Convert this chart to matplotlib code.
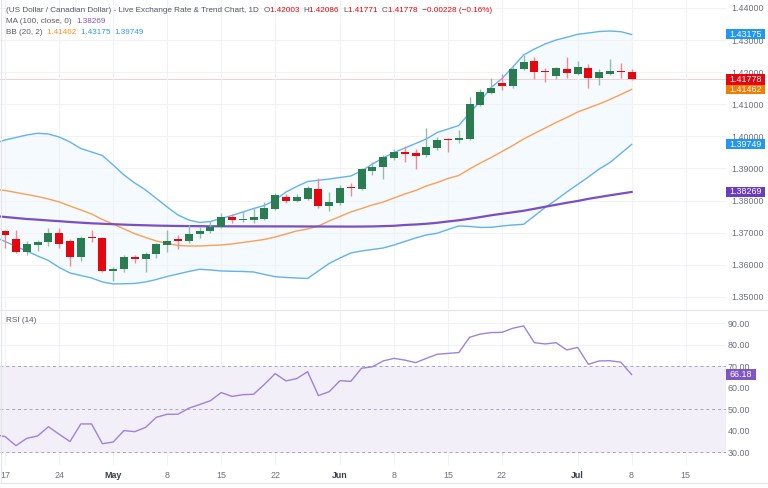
import numpy as np
import pandas as pd
import matplotlib
matplotlib.use("Agg")
import matplotlib.pyplot as plt
from matplotlib import transforms
from matplotlib.patches import Rectangle
from matplotlib.lines import Line2D

plt.rcParams["font.family"] = ["Liberation Sans", "DejaVu Sans"]

# daily USD/CAD candles, Apr 17 -> Jul 8
opens = [1.37044, 1.36804, 1.36408, 1.36626, 1.36720, 1.36991, 1.36741, 1.36252, 1.36857, 1.36826,
         1.35805, 1.35869, 1.36243, 1.36171, 1.36327, 1.36626, 1.36794, 1.36751, 1.36950, 1.37053,
         1.37187, 1.37474, 1.37380, 1.37411, 1.37427, 1.37729, 1.38097, 1.38003, 1.38065, 1.38361,
         1.37841, 1.37910, 1.38424, 1.38361, 1.38931, 1.39037, 1.39318, 1.39505, 1.39473, 1.39420,
         1.39648, 1.39919, 1.39888, 1.39928, 1.40978, 1.41343, 1.41654, 1.41576, 1.42090, 1.42340,
         1.42037, 1.41888, 1.42100, 1.41944, 1.42121, 1.41810, 1.41944, 1.42044, 1.42003]
highs = [1.37084, 1.37084, 1.36751, 1.36773, 1.37137, 1.37137, 1.36804, 1.36907, 1.37084, 1.36875,
         1.35941, 1.36290, 1.36290, 1.36408, 1.36688, 1.37084, 1.36928, 1.37230, 1.37178, 1.37349,
         1.37629, 1.37583, 1.37685, 1.37761, 1.37941, 1.38237, 1.38190, 1.38206, 1.38470, 1.38695,
         1.38277, 1.38486, 1.38533, 1.39006, 1.39212, 1.39420, 1.39607, 1.39701, 1.39592, 1.40252,
         1.39966, 1.39941, 1.40184, 1.41227, 1.41476, 1.41810, 1.41944, 1.42162, 1.42536, 1.42458,
         1.42146, 1.42162, 1.42474, 1.42358, 1.42240, 1.42100, 1.42396, 1.42271, 1.42086]
lows = [1.36514, 1.36358, 1.36305, 1.36430, 1.36595, 1.36514, 1.35972, 1.36118, 1.36720, 1.35785,
        1.35495, 1.35776, 1.36047, 1.35776, 1.36212, 1.36414, 1.36492, 1.36688, 1.36850, 1.37006,
        1.37137, 1.37293, 1.37324, 1.37302, 1.37386, 1.37692, 1.37925, 1.37966, 1.38019, 1.37769,
        1.37685, 1.37863, 1.38134, 1.38330, 1.38800, 1.38673, 1.39265, 1.39202, 1.38984, 1.39358,
        1.39576, 1.39529, 1.39794, 1.39903, 1.40947, 1.41312, 1.41445, 1.41523, 1.42069, 1.41773,
        1.41710, 1.41773, 1.41810, 1.41913, 1.41498, 1.41601, 1.41913, 1.41810, 1.41771]
closes = [1.36919, 1.36408, 1.36639, 1.36701, 1.36991, 1.36648, 1.36252, 1.36844, 1.36826, 1.35807,
          1.35879, 1.36234, 1.36171, 1.36327, 1.36639, 1.36751, 1.36751, 1.36950, 1.37062, 1.37187,
          1.37480, 1.37380, 1.37442, 1.37474, 1.37761, 1.38174, 1.37994, 1.38112, 1.38383, 1.37822,
          1.37947, 1.38402, 1.38377, 1.38975, 1.39062, 1.39367, 1.39505, 1.39467, 1.39399, 1.39679,
          1.39888, 1.39888, 1.39959, 1.41000, 1.41374, 1.41517, 1.41576, 1.42100, 1.42327, 1.42016,
          1.41997, 1.42121, 1.41966, 1.42153, 1.41810, 1.41997, 1.42044, 1.42006, 1.41778]

# indicator lines, one value per bar starting one bar before the first candle (Apr 16)
bb_upper = [1.39779, 1.39888, 1.39966, 1.40044, 1.40097, 1.40075, 1.39982, 1.39826, 1.39623, 1.39514,
            1.39405, 1.39109, 1.38798, 1.38549, 1.38331, 1.38066, 1.37801, 1.37552, 1.37396, 1.37318,
            1.37349, 1.37443, 1.37536, 1.37645, 1.37754, 1.37848, 1.38019, 1.38268, 1.38440, 1.38595,
            1.38633, 1.38673, 1.38720, 1.38767, 1.38923, 1.39141, 1.39327, 1.39499, 1.39639, 1.39779,
            1.39919, 1.40122, 1.40231, 1.40340, 1.40729, 1.41103, 1.41524, 1.41804, 1.42162, 1.42536,
            1.42723, 1.42879, 1.43003, 1.43087, 1.43181, 1.43221, 1.43268, 1.43284, 1.43262, 1.43175]
bb_mid = [1.38346, 1.38315, 1.38253, 1.38190, 1.38128, 1.38050, 1.37957, 1.37832, 1.37708, 1.37583,
          1.37412, 1.37272, 1.37116, 1.36969, 1.36851, 1.36742, 1.36664, 1.36602, 1.36586, 1.36586,
          1.36602, 1.36617, 1.36649, 1.36695, 1.36742, 1.36789, 1.36867, 1.36960, 1.37054, 1.37116,
          1.37209, 1.37365, 1.37505, 1.37645, 1.37754, 1.37863, 1.37957, 1.38081, 1.38206, 1.38315,
          1.38455, 1.38564, 1.38689, 1.38782, 1.38985, 1.39172, 1.39343, 1.39530, 1.39717, 1.39919,
          1.40091, 1.40262, 1.40433, 1.40589, 1.40760, 1.40885, 1.41010, 1.41150, 1.41306, 1.41462]
bb_lower = [1.36867, 1.36726, 1.36571, 1.36431, 1.36275, 1.36135, 1.35917, 1.35745, 1.35667, 1.35589,
            1.35465, 1.35403, 1.35409, 1.35418, 1.35465, 1.35543, 1.35636, 1.35714, 1.35792, 1.35860,
            1.35839, 1.35808, 1.35798, 1.35792, 1.35776, 1.35699, 1.35630, 1.35605, 1.35589, 1.35574,
            1.35808, 1.36041, 1.36212, 1.36368, 1.36431, 1.36477, 1.36524, 1.36617, 1.36726, 1.36835,
            1.36929, 1.36982, 1.37100, 1.37209, 1.37194, 1.37163, 1.37169, 1.37209, 1.37240, 1.37262,
            1.37521, 1.37786, 1.38019, 1.38268, 1.38502, 1.38736, 1.38985, 1.39187, 1.39468, 1.39749]
ma100 = [1.37521, 1.37490, 1.37458, 1.37427, 1.37406, 1.37381, 1.37359, 1.37334, 1.37312, 1.37293,
         1.37278, 1.37265, 1.37252, 1.37240, 1.37231, 1.37221, 1.37215, 1.37209, 1.37206, 1.37203,
         1.37201, 1.37200, 1.37199, 1.37198, 1.37197, 1.37197, 1.37196, 1.37196, 1.37195, 1.37194,
         1.37193, 1.37192, 1.37191, 1.37190, 1.37192, 1.37195, 1.37205, 1.37215, 1.37240, 1.37256,
         1.37278, 1.37309, 1.37350, 1.37387, 1.37434, 1.37487, 1.37543, 1.37590, 1.37636, 1.37683,
         1.37745, 1.37808, 1.37870, 1.37932, 1.37988, 1.38055, 1.38110, 1.38165, 1.38217, 1.38269]
rsi = [38.3, 37.3, 33.1, 36.5, 37.6, 41.9, 38.4, 35.0, 43.2, 43.2,
       34.0, 34.8, 40.1, 39.6, 41.6, 46.3, 47.7, 47.7, 50.5, 52.2,
       54.0, 57.8, 56.0, 56.8, 57.0, 61.6, 66.6, 63.2, 64.3, 67.5,
       56.4, 58.2, 63.3, 63.0, 69.1, 69.8, 72.5, 73.7, 72.9, 71.7,
       73.7, 75.6, 76.0, 76.4, 83.5, 85.0, 85.7, 85.8, 87.7, 88.8,
       81.0, 80.4, 81.0, 77.6, 78.8, 70.9, 72.5, 72.6, 71.9, 66.18]

first_day = "2026-04-17"
tick_dates = ["2026-04-17", "2026-04-24", "2026-05-01", "2026-05-08", "2026-05-15", "2026-05-22",
              "2026-06-01", "2026-06-08", "2026-06-15", "2026-06-22", "2026-07-01", "2026-07-08",
              "2026-07-15"]

price_ticks = [1.35, 1.36, 1.37, 1.38, 1.39, 1.40, 1.41, 1.42, 1.43, 1.44]
rsi_ticks = [30, 40, 50, 60, 70, 80, 90]

GREEN = "#2a7d50"
RED = "#e5060f"
GRAY = "#6b6f7a"
TXT = "#555a64"
BLUE = "#2f9bf0"
PURPLE = "#7e57c2"
FS = 6.4      # scale labels
FS_HEAD = 5.9  # legend rows

W, H = 768, 488
fig = plt.figure(figsize=(W / 100, H / 100), dpi=100)
fig.patch.set_facecolor("white")

ax = fig.add_axes([0, 1 - 309 / H, 726 / W, 309 / H])
ax_rsi = fig.add_axes([0, 1 - 465 / H, 726 / W, 155 / H], sharex=ax)

n = len(closes)
idx = np.arange(n)
line_idx = np.arange(-1, n)
o, h, l, c = map(np.array, (opens, highs, lows, closes))
up = c >= o

# bands and moving average
ax.fill_between(line_idx, bb_lower, bb_upper, color="#2196f3", alpha=0.045, lw=0, zorder=1)
ax.plot(line_idx, bb_upper, color="#62b2f3", lw=1.0, zorder=2)
ax.plot(line_idx, bb_lower, color="#62b2f3", lw=1.0, zorder=2)
ax.plot(line_idx, bb_mid, color="#fb9f52", lw=1.0, zorder=2)
ax.plot(line_idx, ma100, color="#7b4fc4", lw=1.6, zorder=2)

# candles
wick_cols = np.where(up, "#93bda6", "#f08a8f")
body_cols = np.where(up, GREEN, RED)
ax.vlines(idx, l, h, colors=wick_cols, lw=1.0, zorder=3)
ax.bar(idx, np.maximum(np.abs(c - o), 0.00028), bottom=np.minimum(o, c), width=0.74,
       color=body_cols, lw=0, zorder=4)

# last price line
ax.axhline(closes[-1], color="#f9c4c6", lw=0.6, zorder=1.5)

# x axis from business days
days = pd.bdate_range(first_day, periods=80)
tick_pos = [days.get_loc(pd.Timestamp(d)) for d in tick_dates]
tick_lab = [pd.Timestamp(d).strftime("%b") if pd.Timestamp(d).day == 1 else str(pd.Timestamp(d).day)
            for d in tick_dates]
ax.set_xlim(-0.48, 66.74)
ax.set_xticks(tick_pos)
ax.tick_params(axis="x", which="both", length=0, labelbottom=False)

ax.set_ylim(1.34623, 1.44249)
ax.set_yticks(price_ticks)
ax.set_yticklabels([f"{v:.5f}" for v in price_ticks])
ax.yaxis.tick_right()
ax.tick_params(axis="y", length=0, pad=4.0, labelsize=FS, labelcolor=GRAY)
ax.grid(True, color="#f0f2f6", lw=0.8, zorder=0)
for s in ax.spines.values():
    s.set_visible(False)

# RSI panel
ax_rsi.axhspan(30, 70, color=PURPLE, alpha=0.09, lw=0, zorder=1)
for lvl in (70, 50, 30):
    ax_rsi.axhline(lvl, color="#a8a2bd", lw=0.7, ls=(0, (3, 3)), zorder=2)
ax_rsi.plot(line_idx, rsi, color="#9d83d8", lw=1.0, zorder=3)
ax_rsi.set_ylim(24.1, 96.19)
ax_rsi.set_yticks(rsi_ticks)
ax_rsi.set_yticklabels([f"{v:.2f}" for v in rsi_ticks])
ax_rsi.yaxis.tick_right()
ax_rsi.tick_params(axis="y", length=0, pad=1.0, labelsize=FS, labelcolor=GRAY)
ax_rsi.set_xticks(tick_pos)
ax_rsi.set_xticklabels(tick_lab)
ax_rsi.tick_params(axis="x", length=0, pad=4.5, labelsize=FS, labelcolor=GRAY)
for lbl in ax_rsi.get_xticklabels():
    if lbl.get_text() in ("May", "Jun", "Jul"):
        lbl.set_fontweight("bold")
        lbl.set_color("#3a3e48")
ax_rsi.grid(True, color="#f0f2f6", lw=0.8, zorder=0)
for s in ax_rsi.spines.values():
    s.set_visible(False)

# panel separators and frame
for y_px in (309.5, 482.5):
    fig.add_artist(Line2D([0, 1], [1 - y_px / H] * 2, transform=fig.transFigure, color="#e3e5ea", lw=0.8))
fig.add_artist(Line2D([0.8 / W] * 2, [1 - 482.5 / H, 1], transform=fig.transFigure, color="#e3e5ea", lw=0.8))


# value tags on the right scale
def tag(axis, value, text, color, width_px, height_data):
    tr = transforms.blended_transform_factory(fig.transFigure, axis.transData)
    fig.add_artist(Rectangle((726 / W, value - height_data / 2), width_px / W, height_data,
                             transform=tr, color=color, lw=0, zorder=5))
    fig.text((726 + width_px / 2) / W, value, text, transform=tr, color="white", fontsize=FS,
             ha="center", va="center", zorder=6)


px_price = 1 / 3210
tag(ax, bb_upper[-1], f"{bb_upper[-1]:.5f}", "#2196f3", 39, 10 * px_price)
tag(ax, bb_lower[-1], f"{bb_lower[-1]:.5f}", "#2196f3", 39, 10 * px_price)
tag(ax, ma100[-1], f"{ma100[-1]:.5f}", "#6a3cbf", 39, 10 * px_price)
tag(ax, bb_mid[-1], f"{bb_mid[-1]:.5f}", "#f57c00", 39, 10 * px_price)
tag(ax, closes[-1], f"{closes[-1]:.5f}", RED, 39, 10.5 * px_price)
tag(ax_rsi, rsi[-1], f"{rsi[-1]:.2f}", PURPLE, 30, 11 / 2.15)


# legend rows at the top of each panel
def text_row(x_px, y_px, parts):
    prev = fig.text(x_px / W, 1 - y_px / H, parts[0][0], color=parts[0][1], fontsize=FS_HEAD,
                    ha="left", va="center")
    for s, col in parts[1:]:
        prev = ax.annotate(s, xy=(1, 0.5), xycoords=prev, xytext=(0, 0), textcoords="offset points",
                           color=col, fontsize=FS_HEAD, ha="left", va="center", annotation_clip=False)


chg = closes[-1] - closes[-2]
text_row(6, 10.7, [
    ("(US Dollar / Canadian Dollar) - Live Exchange Rate & Trend Chart, 1D  ", TXT),
    ("O", TXT), (f"{opens[-1]:.5f}  ", RED),
    ("H", TXT), (f"{highs[-1]:.5f}  ", RED),
    ("L", TXT), (f"{lows[-1]:.5f}  ", RED),
    ("C", TXT), (f"{closes[-1]:.5f}  {chg:.5f} ({chg / closes[-2] * 100:.2f}%)".replace("-", "\u2212"), RED),
])
text_row(6, 21.2, [("MA (100, close, 0)  ", TXT), (f"{ma100[-1]:.5f}", PURPLE)])
text_row(6, 32.3, [("BB (20, 2)  ", TXT), (f"{bb_mid[-1]:.5f}  ", "#ff8f1f"),
                   (f"{bb_upper[-1]:.5f}  ", BLUE), (f"{bb_lower[-1]:.5f}", BLUE)])
text_row(6, 321, [("RSI (14)  ", TXT), (f"{rsi[-1]:.2f}", "#9575cd")])

fig.savefig("out.png", dpi=100, facecolor="white")
